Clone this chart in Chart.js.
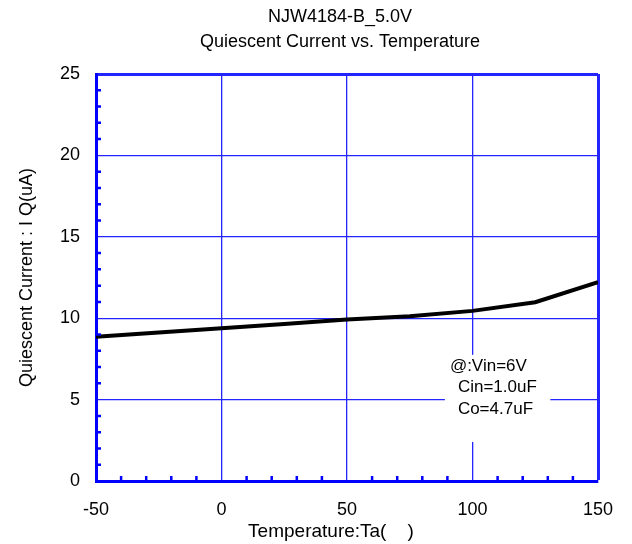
<!DOCTYPE html>
<html>
<head>
<meta charset="utf-8">
<script src="https://cdn.jsdelivr.net/npm/chart.js@4/dist/chart.umd.min.js"></script>
<style>
  html, body { margin: 0; padding: 0; background: #ffffff; }
  #chart { display: block; }
</style>
</head>
<body>
<canvas id="chart" width="632" height="544"></canvas>
<script>
// Quiescent current (uA) measured over ambient temperature (deg C)
const temperatures = [-50, -25, 0, 25, 50, 75, 100, 125, 150];
const quiescentCurrent = [8.86, 9.12, 9.38, 9.65, 9.92, 10.12, 10.45, 10.98, 12.22];

const xTicks = [-50, 0, 50, 100, 150];
const yTicks = [0, 5, 10, 15, 20, 25];
const xMinorStep = 10;
const yMinorStep = 1;

const titleLines = ['NJW4184-B_5.0V', 'Quiescent Current vs. Temperature'];
const xTitle = 'Temperature:Ta(    )';
const yTitle = 'Quiescent Current : I Q(uA)';
const conditionLines = ['@:Vin=6V', 'Cin=1.0uF', 'Co=4.7uF'];

const FONT = "'Liberation Sans', Arial, sans-serif";
const AXIS_BLUE = '#0000ff';
const GRID_BLUE = '#2424ff';

// Short inward tick marks between the major grid lines
const minorTicks = {
  id: 'minorTicks',
  afterDatasetsDraw(chart) {
    const { ctx, chartArea: a, scales: { x, y } } = chart;
    ctx.save();
    ctx.strokeStyle = AXIS_BLUE;
    ctx.lineWidth = 2.5;
    ctx.beginPath();
    for (let v = x.min + xMinorStep; v < x.max; v += xMinorStep) {
      if (xTicks.includes(v)) continue;
      const px = x.getPixelForValue(v);
      ctx.moveTo(px, a.bottom);
      ctx.lineTo(px, a.bottom - 5);
    }
    for (let v = y.min + yMinorStep; v < y.max; v += yMinorStep) {
      if (yTicks.includes(v)) continue;
      const py = y.getPixelForValue(v);
      ctx.moveTo(a.left, py);
      ctx.lineTo(a.left + 5, py);
    }
    ctx.stroke();
    ctx.restore();
  }
};

// Measurement conditions in a white text box over the grid
const conditionBox = {
  id: 'conditionBox',
  beforeDatasetsDraw(chart) {
    const { ctx, scales: { x, y } } = chart;
    const l = x.getPixelForValue(89);
    const r = x.getPixelForValue(131);
    const t = y.getPixelForValue(7.75);
    const b = y.getPixelForValue(2.4);
    ctx.save();
    ctx.fillStyle = '#ffffff';
    ctx.fillRect(l, t, r - l, b - t);
    ctx.fillStyle = '#000000';
    ctx.font = `17px ${FONT}`;
    ctx.textAlign = 'left';
    ctx.textBaseline = 'middle';
    conditionLines.forEach((s, i) => {
      ctx.fillText(s, l + 5 + (i > 0 ? 8 : 0), t + 11 + i * 21.5);
    });
    ctx.restore();
  }
};

// Chart heading and temperature-axis caption, set slightly left of the plot centre
const captions = {
  id: 'captions',
  afterDraw(chart) {
    const { ctx, chartArea: a } = chart;
    const mid = (a.left + a.right) / 2;
    ctx.save();
    ctx.fillStyle = '#000000';
    ctx.textAlign = 'center';
    ctx.textBaseline = 'middle';
    ctx.font = `18px ${FONT}`;
    titleLines.forEach((s, i) => ctx.fillText(s, mid - 7, 17 + i * 25));
    ctx.font = `19px ${FONT}`;
    ctx.fillText(xTitle, mid - 16, 532);
    ctx.restore();
  }
};

new Chart(document.getElementById('chart'), {
  type: 'line',
  data: {
    datasets: [{
      data: temperatures.map((t, i) => ({ x: t, y: quiescentCurrent[i] })),
      borderColor: '#000000',
      borderWidth: 4,
      pointRadius: 0,
      tension: 0,
      fill: false
    }]
  },
  options: {
    responsive: false,
    animation: false,
    events: [],
    layout: { padding: { left: 0, right: 34, top: 74, bottom: 0 } },
    plugins: {
      legend: { display: false },
      tooltip: { enabled: false },
      title: { display: false }
    },
    scales: {
      x: {
        type: 'linear',
        min: -50,
        max: 150,
        afterBuildTicks: s => { s.ticks = xTicks.map(v => ({ value: v })); },
        afterFit: s => { s.height = 63; },
        grid: {
          color: GRID_BLUE,
          lineWidth: c => (c.tick && c.tick.value === 150 ? 3 : 1.3),
          drawTicks: false
        },
        border: { display: true, color: AXIS_BLUE, width: 3 },
        ticks: {
          color: '#000000',
          padding: 18,
          maxRotation: 0,
          font: { family: FONT, size: 18 }
        },
        title: { display: false }
      },
      y: {
        type: 'linear',
        min: 0,
        max: 25,
        afterBuildTicks: s => { s.ticks = yTicks.map(v => ({ value: v })); },
        afterFit: s => { s.width = 96; },
        grid: {
          color: GRID_BLUE,
          lineWidth: c => (c.tick && c.tick.value === 25 ? 3 : 1.3),
          drawTicks: false
        },
        border: { display: true, color: AXIS_BLUE, width: 3 },
        ticks: {
          color: '#000000',
          padding: 16,
          font: { family: FONT, size: 18 }
        },
        title: {
          display: true,
          text: yTitle,
          color: '#000000',
          font: { family: FONT, size: 18, lineHeight: 1.2 },
          padding: { top: 16, bottom: 0 }
        }
      }
    }
  },
  plugins: [conditionBox, minorTicks, captions]
});
</script>
</body>
</html>
